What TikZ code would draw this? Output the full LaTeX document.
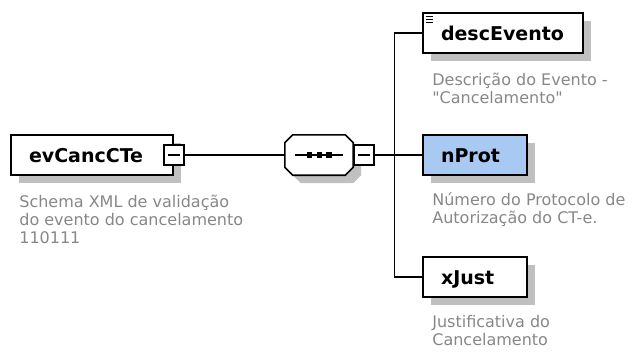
\documentclass[tikz,border=0pt]{standalone}
\usepackage{fontspec}
\setmainfont{DejaVu Sans}
\usepackage{tikz}
\usetikzlibrary{shapes, shadows, arrows.meta, positioning}
\definecolor{descgray}{RGB}{135,135,135}
\definecolor{optblue}{RGB}{168,202,242}
\definecolor{shadowgray}{RGB}{192,192,192}
\tikzstyle{element} = [draw, fill=white, rectangle, line width=1.7pt, minimum height=40pt, inner xsep=18pt, inner ysep=0pt, align=left, text height=14pt, text depth=0pt, font=\fontsize{19}{19}\selectfont\bfseries, general shadow={fill=shadowgray, shadow xshift=8pt, shadow yshift=-8pt}]
\tikzstyle{expander} = [draw, fill=white, rectangle, line width=1.3pt, minimum size=20pt, inner sep=0pt]
\tikzstyle{seqbox} = [rectangle, minimum width=68pt, minimum height=40pt, inner sep=0pt]
\tikzstyle{desc} = [align=left, text=descgray, inner sep=0pt, anchor=base west, font=\fontsize{16}{18}\selectfont]
\tikzstyle{wire} = [line width=1.6pt]
% octagon round node #1, moved by (#2,#3)
\newcommand{\octagon}[3]{([xshift=#2+8pt, yshift=#3]#1.north west) -- ([xshift=#2-8pt, yshift=#3]#1.north east) -- ([xshift=#2, yshift=#3-8pt]#1.north east) -- ([xshift=#2, yshift=#3+8pt]#1.south east) -- ([xshift=#2-8pt, yshift=#3]#1.south east) -- ([xshift=#2+8pt, yshift=#3]#1.south west) -- ([xshift=#2, yshift=#3+8pt]#1.south west) -- ([xshift=#2, yshift=#3-8pt]#1.north west) -- cycle}

\begin{document}
\begin{tikzpicture}[x=1pt, y=1pt, node distance=122pt]
  \useasboundingbox (0,0) rectangle (637,-351);
  \node[element, text width=126pt] (evCancCTe) at (92,-155) {evCancCTe};
  \node[expander] (evCancCTeexp) at (evCancCTe.east) {};
  \draw[wire] ([xshift=-6pt]evCancCTeexp.center) -- ([xshift=6pt]evCancCTeexp.center);
  \node[desc] (evCancCTedesc) at ([xshift=9pt, yshift=-68pt]evCancCTe.south west) {Schema XML de validação\\do evento do cancelamento\\110111};

  \node[seqbox, right of=evCancCTe, node distance=227pt] (seq) {};
  \fill[shadowgray] \octagon{seq}{8pt}{-8pt};
  \draw[wire, fill=white] \octagon{seq}{0pt}{0pt};
  \node[expander, right=0pt of seq] (seqexp) {};
  \draw[wire] ([xshift=-6pt]seqexp.center) -- ([xshift=6pt]seqexp.center);
  \draw[wire] ([xshift=-24pt]seq.center) -- ([xshift=24pt]seq.center);
  \foreach \dx in {-9.5, 0.5, 10} {
    \fill ([xshift=\dx pt]seq.center) +(-2.7pt,-2.7pt) rectangle +(2.7pt,2.7pt);
  }
  \draw[wire] (evCancCTeexp) -- (seq);

  \node[element, fill=optblue, text width=68pt, right of=seq, node distance=156pt] (nProt) {nProt};
  \node[element, text width=124pt, above of=nProt, xshift=28pt] (descEvento) {descEvento};
  \node[element, text width=68pt, below of=nProt] (xJust) {xJust};
  \foreach \dy in {4, 7, 10} {
    \draw[line width=1.2pt] ([xshift=4pt, yshift=-\dy pt]descEvento.north west) -- +(7pt,0);
  }

  \node[desc] (descEventodesc) at ([xshift=10pt, yshift=-50pt]descEvento.south west) {Descrição do Evento -\\\textquotedbl Cancelamento\textquotedbl};
  \node[desc] (nProtdesc) at ([xshift=10pt, yshift=-48pt]nProt.south west) {Número do Protocolo de\\Autorização do CT-e.};
  \node[desc] (xJustdesc) at ([xshift=10pt, yshift=-48pt]xJust.south west) {Justificativa do\\Cancelamento};

  \coordinate[right=20pt of seqexp.east] (fork);
  \draw[wire] (seqexp) -- (nProt);
  \draw[wire] (descEvento.west) -- (fork |- descEvento.west) -- (fork |- xJust.west) -- (xJust.west);
\end{tikzpicture}
\end{document}
